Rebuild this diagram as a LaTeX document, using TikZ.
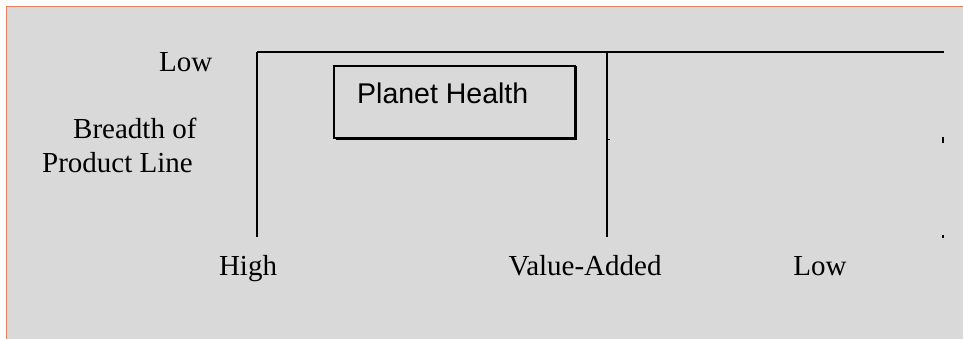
\documentclass[tikz,border=0pt]{standalone}
\usepackage{fontspec}
\setmainfont{Liberation Serif}
\newfontfamily\boxfont{Liberation Sans}
\definecolor{panelgray}{RGB}{217,217,217}
\definecolor{panelrim}{RGB}{232,130,98}
\tikzset{
  axislabel/.style={inner sep=0pt, font=\fontsize{29}{34}\selectfont},
  gridline/.style={line width=1.6pt, black},
}
\begin{document}
\begin{tikzpicture}[x=1pt,y=-1pt] %pixel units, y downwards
	\useasboundingbox (0,0) rectangle (963,339);
		%Fundo
	\fill[white] (0,0) rectangle (963,339);
	\fill[panelgray] (6,6) rectangle (963,339);
	\draw[panelrim, line width=1.4pt] (6.5,339) -- (6.5,6.5) -- (963,6.5);
		%Linhas
	\coordinate (tl) at (257,52);
	\coordinate (tm) at (607,52);
	\coordinate (tr) at (944,52);
	\coordinate (bl) at (257,237);
	\coordinate (bm) at (607,237);
	\draw[gridline, line width=2pt] (tl) -- (tr);
	\draw[gridline] (tl) -- (bl);
	\draw[gridline] (tm) -- (bm);
	\draw[line width=1pt] (607,139.5) -- (610,139.5);
	\draw[line width=1.6pt] (943,137) -- (943,143);
	\draw[line width=1.4pt] (943,235) -- (943,238);
		%Caixa
	\fill[black] (336,66) rectangle (577,140.5);
	\draw[line width=1.4pt, fill=panelgray] (334,66) rectangle (575,138);
	\node[anchor=base west, inner sep=0pt, font=\boxfont\fontsize{28.5}{34}\selectfont] (health) at (357,104) {Planet Health};
		%Rotulos
	\node[axislabel, anchor=base west] (lowtop) at (159,72) {Low};
	\node[axislabel, anchor=base west] (breadth) at (73,139) {Breadth of};
	\node[axislabel, anchor=base west] (product) at (42,173) {Product Line};
	\node[axislabel, anchor=base] (high) at (248,275) {High};
	\node[axislabel, anchor=base] (valueadded) at (585,275) {Value-Added};
	\node[axislabel, anchor=base] (lowbottom) at (820,275) {Low};
\end{tikzpicture}
\end{document}
